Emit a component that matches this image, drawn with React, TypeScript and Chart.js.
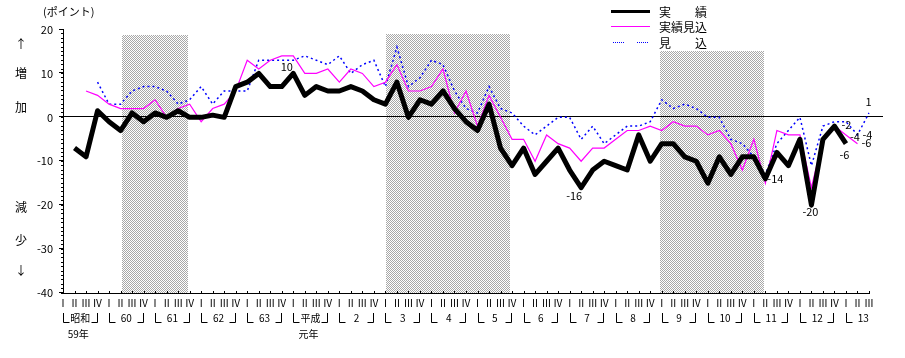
import { useEffect, useRef } from "react";
import { Chart, registerables } from "chart.js";

Chart.register(...registerables);

// ---- categories ----
const quarterNames = ["Ⅰ", "Ⅱ", "Ⅲ", "Ⅳ"];
const eraYears = ["昭和", "60", "61", "62", "63", "平成", "2", "3", "4", "5", "6", "7", "8", "9", "10", "11", "12", "13"];
const eraNotes = ["59年", "", "", "", "", "元年", "", "", "", "", "", "", "", "", "", "", "", ""];
const quarterCount = 71; // 昭和59 Ⅰ … 平成13 Ⅲ
const quarterLabels: string[] = [];
for (let i = 0; i < quarterCount; i++) quarterLabels.push(quarterNames[i % 4]);

// ---- series (BSI points) ----
const actual = [
  null, -7, -9, 1.5, -1, -3, 1, -1, 1, 0, 1.5, 0, 0, 0.5, 0, 7, 8, 10, 7, 7,
  10, 5, 7, 6, 6, 7, 6, 4, 3, 8, 0, 4, 3, 6, 2, -1, -3, 3, -7, -11,
  -7, -13, -10, -7, -12, -16, -12, -10, -11, -12, -4, -10, -6, -6, -9, -10, -15, -9, -13, -9,
  -9, -14, -8, -11, -5, -20, -5, -2, -6, null, null,
];
const estimated = [
  null, null, 6, 5, 3, 2, 2, 2, 4, 0, 2, 3, -1, 2, 3, 6, 13, 11, 13, 14,
  14, 10, 10, 11, 8, 11, 10, 7, 8, 12, 6, 6, 7, 11, 1, 6, -2, 5, 0, -5,
  -5, -10, -4, -6, -7, -10, -7, -7, -5, -3, -3, -2, -3, -1, -2, -2, -4, -3, -6, -12,
  -5, -15, -3, -4, -4, -16, -5, -2, -4, -6, null,
];
const forecast = [
  null, null, null, 8, 3, 3, 6, 7, 7, 6, 3, 4, 7, 3, 6, 6, 6, 13, 13, 13,
  13, 14, 13, 12, 14, 10, 12, 13, 7, 16, 7, 9, 13, 12, 6, 2, 1, 7, 2, 1,
  -2, -4, -2, 0, 0, -5, -2, -6, -4, -2, -2, -1, 4, 2, 3, 2, 0, 0, -5, -6,
  -9, -13, -6, -3, 0, -11, -2, -1, -1, -4, 1,
];

// ---- recession shading (quarter index range, top value) ----
const shadeFrom = [5.1, 28.05, 51.85];
const shadeTo = [10.85, 38.85, 60.9];
const shadeTop = [18.8, 18.9, 15.2];

// ---- value labels: [series, quarter index] ----
const labelSeries = [0, 0, 0, 0, 0, 0, 1, 1, 2, 2];
const labelIndex = [20, 45, 61, 65, 67, 68, 68, 69, 69, 70];
const labelDx = [-6.5, -7, 10, -1, 12, -1.5, 9, 9, 10, -0.5];
const labelDy = [-6.5, 8, 0, 7, -1, 11.5, 1.5, -0.7, -0.5, -11];

const seriesNames = ["実　　績", "実績見込", "見　　込"];

const FONT = "'Noto Sans CJK JP', 'Noto Sans', sans-serif";

function makePattern(ctx: CanvasRenderingContext2D) {
  const c = document.createElement("canvas");
  c.width = 2;
  c.height = 2;
  const p = c.getContext("2d")!;
  p.fillStyle = "#ffffff";
  p.fillRect(0, 0, 2, 2);
  p.fillStyle = "#a8a8a8";
  p.fillRect(0, 0, 1, 1);
  p.fillRect(1, 1, 1, 1);
  return ctx.createPattern(c, "repeat")!;
}

const decor = {
  id: "decor",
  beforeDatasetsDraw(chart: any) {
    const { ctx, chartArea: a, scales } = chart;
    const x = scales.x;
    const y = scales.y;
    ctx.save();
    ctx.fillStyle = makePattern(ctx);
    for (let k = 0; k < shadeFrom.length; k++) {
      const x0 = Math.round(x.getPixelForValue(shadeFrom[k]));
      const x1 = Math.round(x.getPixelForValue(shadeTo[k]));
      const y0 = Math.round(y.getPixelForValue(shadeTop[k]));
      ctx.fillRect(x0, y0, x1 - x0, Math.round(a.bottom) - y0);
    }
    ctx.strokeStyle = "#000";
    ctx.lineWidth = 1;
    const zy = Math.round(y.getPixelForValue(0)) - 0.5;
    ctx.beginPath();
    ctx.moveTo(a.left, zy);
    ctx.lineTo(a.right + 14, zy);
    ctx.stroke();
    // quarter tick marks (upward)
    ctx.beginPath();
    for (let i = 0; i < quarterCount; i++) {
      const px = Math.round(x.getPixelForValue(i)) + 0.5;
      ctx.moveTo(px, a.bottom - 2);
      ctx.lineTo(px, a.bottom);
    }
    // major y ticks
    for (let v = -40; v <= 20; v += 10) {
      const py = Math.round(y.getPixelForValue(v)) - 0.5;
      ctx.moveTo(a.left - 4, py);
      ctx.lineTo(a.left, py);
    }
    ctx.stroke();
    ctx.restore();
  },
  afterDraw(chart: any) {
    const { ctx, scales } = chart;
    const x = scales.x;
    ctx.save();
    ctx.fillStyle = "#000";
    ctx.strokeStyle = "#000";
    ctx.lineWidth = 1;

    // value labels
    ctx.font = `11px ${FONT}`;
    ctx.textAlign = "center";
    ctx.textBaseline = "middle";
    const sets = chart.data.datasets;
    for (let k = 0; k < labelSeries.length; k++) {
      const s = labelSeries[k];
      const i = labelIndex[k];
      const el = chart.getDatasetMeta(s).data[i];
      const v = sets[s].data[i];
      ctx.fillText(String(v), el.x + labelDx[k], el.y + labelDy[k]);
    }

    // year row
    ctx.font = `10px ${FONT}`;
    ctx.beginPath();
    for (let j = 0; j < eraYears.length; j++) {
      const s = j * 4;
      ctx.fillText(eraYears[j], x.getPixelForValue(s + 1.5), 318);
      if (eraNotes[j]) ctx.fillText(eraNotes[j], x.getPixelForValue(s + 1.5) - 2, 334);
      const l = Math.round(x.getPixelForValue(s)) + 0.5;
      ctx.moveTo(l, 313);
      ctx.lineTo(l, 322.5);
      ctx.lineTo(l + 6, 322.5);
      if (s + 3 < quarterCount) {
        const r = Math.round(x.getPixelForValue(s + 3)) - 0.5;
        ctx.moveTo(r - 6, 322.5);
        ctx.lineTo(r, 322.5);
        ctx.lineTo(r, 313);
      }
    }
    ctx.stroke();

    // unit and side words
    ctx.font = `11px ${FONT}`;
    ctx.textAlign = "left";
    ctx.fillText("(ポイント)", 43, 12);
    ctx.font = `12px ${FONT}`;
    ctx.textAlign = "center";
    const side = ["↑", "増", "加", "減", "少", "↓"];
    const sideY = [44, 73, 107, 207, 240, 270];
    for (let k = 0; k < side.length; k++) ctx.fillText(side[k], 21, sideY[k]);

    // legend
    const ly = [11.5, 26.5, 42.5];
    ctx.lineWidth = 3;
    ctx.beginPath();
    ctx.moveTo(611, ly[0]);
    ctx.lineTo(650, ly[0]);
    ctx.stroke();
    ctx.lineWidth = 1;
    ctx.strokeStyle = sets[1].borderColor;
    ctx.beginPath();
    ctx.moveTo(611, ly[1]);
    ctx.lineTo(650, ly[1]);
    ctx.stroke();
    ctx.strokeStyle = sets[2].borderColor;
    ctx.setLineDash([1, 1]);
    ctx.beginPath();
    ctx.moveTo(613, ly[2]);
    ctx.lineTo(625, ly[2]);
    ctx.moveTo(637, ly[2]);
    ctx.lineTo(649, ly[2]);
    ctx.stroke();
    ctx.setLineDash([]);
    ctx.textAlign = "left";
    ctx.fillStyle = "#000";
    for (let k = 0; k < 3; k++) ctx.fillText(seriesNames[k], 659, ly[k] + 0.5);
    ctx.restore();
  },
};

export default function App() {
  const ref = useRef<HTMLCanvasElement | null>(null);
  useEffect(() => {
    if (!ref.current) return;
    const chart = new Chart(ref.current, {
      type: "line",
      data: {
        labels: quarterLabels,
        datasets: [
          { label: seriesNames[0], data: actual, borderColor: "#000000", borderWidth: 5, pointRadius: 0, tension: 0, borderJoinStyle: "round" },
          { label: seriesNames[1], data: estimated, borderColor: "#ff00ff", borderWidth: 1.2, pointRadius: 0, tension: 0 },
          { label: seriesNames[2], data: forecast, borderColor: "#0000ff", borderWidth: 1.5, pointRadius: 0, tension: 0, borderDash: [2, 3] },
        ],
      },
      options: {
        animation: false,
        responsive: true,
        maintainAspectRatio: false,
        layout: { padding: { left: 0, right: 36, top: 29.5, bottom: 0 } },
        plugins: { legend: { display: false }, tooltip: { enabled: false } },
        scales: {
          x: {
            type: "category",
            offset: false,
            grid: { display: true, drawOnChartArea: false, drawTicks: false },
            border: { display: true, color: "#000", width: 1 },
            ticks: { autoSkip: false, maxRotation: 0, minRotation: 0, color: "#000", font: { size: 10, family: FONT }, padding: 4 },
            afterFit: (s: any) => { s.height = 65; },
          },
          y: {
            min: -40,
            max: 20,
            grid: { display: true, drawOnChartArea: false, drawTicks: true, tickLength: 2, tickColor: "#000" },
            border: { display: true, color: "#000", width: 1 },
            ticks: {
              stepSize: 1,
              autoSkip: false,
              color: "#000",
              padding: 8,
              font: { size: 11, family: FONT },
              callback: (v: any) => (Number(v) % 10 === 0 ? String(v) : ""),
            },
            afterFit: (s: any) => { s.width = 63; },
          },
        },
      },
      plugins: [decor],
    });
    return () => chart.destroy();
  }, []);
  return (
    <div style={{ position: "absolute", left: 0, top: 0, width: 905, height: 358 }}>
      <canvas ref={ref} />
    </div>
  );
}
